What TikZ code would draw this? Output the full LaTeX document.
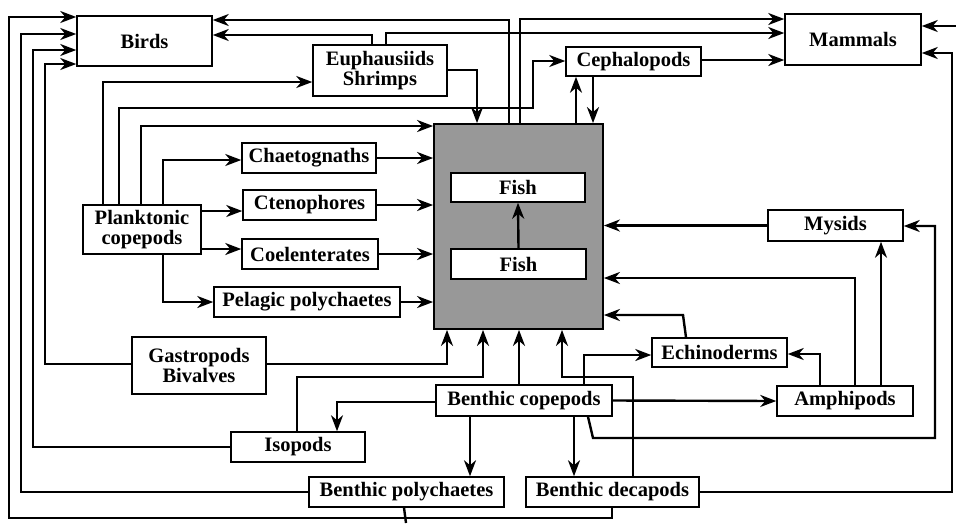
\documentclass[tikz,border=0pt]{standalone}
\usepackage{fontspec}
\setmainfont{Liberation Serif}
\usetikzlibrary{arrows.meta}
\definecolor{fishgray}{RGB}{152,152,152}
\begin{document}
\begin{tikzpicture}[x=1pt,y=-1pt,
  font=\fontsize{20.5}{19.5}\selectfont\bfseries,
  box/.style={draw, line width=1.5pt, inner sep=0pt, align=center, fill=white},
  con/.style={line width=2.4pt, line join=miter},
  arr/.style={con, -{Stealth[length=16pt,width=12pt,inset=5pt]}}]
\useasboundingbox (0,0) rectangle (956,523);
% nodes
\node[box, fill=fishgray, line width=1.8pt, minimum width=169pt, minimum height=205pt] (fishbox) at (518.5,226.5) {};
\node[box, minimum width=134pt, minimum height=29pt] (fishtop) at (518,187.5) {Fish};
\node[box, minimum width=135pt, minimum height=30pt] (fishbot) at (518.5,264) {Fish};
\node[box, minimum width=135pt, minimum height=50pt] (birds) at (144.5,41) {Birds};
\node[box, minimum width=134pt, minimum height=51pt] (euph) at (380,70.5) {Euphausiids\\Shrimps};
\node[box, minimum width=135pt, minimum height=29pt] (ceph) at (633.5,61.5) {Cephalopods};
\node[box, minimum width=136pt, minimum height=51pt] (mammals) at (853,39.5) {Mammals};
\node[box, minimum width=134pt, minimum height=30pt] (chaet) at (309,158) {Chaetognaths};
\node[box, minimum width=133pt, minimum height=30pt] (cteno) at (309.5,205) {Ctenophores};
\node[box, minimum width=136pt, minimum height=30pt] (coel) at (310,254) {Coelenterates};
\node[box, minimum width=186pt, minimum height=30pt] (pelag) at (307,302) {Pelagic polychaetes};
\node[box, minimum width=118pt, minimum height=49pt] (plank) at (142,229.5) {Planktonic\\copepods};
\node[box, minimum width=135pt, minimum height=31pt] (mysids) at (835.5,225.5) {Mysids};
\node[box, minimum width=135pt, minimum height=29pt] (echino) at (719.5,352.5) {Echinoderms};
\node[box, minimum width=136pt, minimum height=30pt] (amphi) at (845,401) {Amphipods};
\node[box, minimum width=134pt, minimum height=57pt] (gastro) at (199,365.5) {Gastropods\\Bivalves};
\node[box, minimum width=134pt, minimum height=30pt] (isopods) at (298,447) {Isopods};
\node[box, minimum width=176pt, minimum height=31pt] (bcope) at (524,400.5) {Benthic copepods};
\node[box, minimum width=195pt, minimum height=30pt] (bpoly) at (406.5,492) {Benthic polychaetes};
\node[box, minimum width=173pt, minimum height=30pt] (bdeca) at (612.5,492) {Benthic decapods};
\coordinate (cut) at (406,523);
\coordinate (rightin) at (956,26);
% connectors to Birds
\draw[arr] (612,0 |- bdeca.south) -- (612,518) -- (9,518) -- (9,17) -- (birds.west |- 0,17);
\draw[con] (404,0 |- bpoly.south) -- (cut);
\draw[arr] (bpoly.west) -- (21,492) -- (21,34) -- (birds.west |- 0,34);
\draw[arr] (isopods.west) -- (33,447) -- (33,50) -- (birds.west |- 0,50);
\draw[arr] (gastro.west |- 0,364) -- (45,364) -- (45,64) -- (birds.west |- 0,64);
\draw[arr] (509,0 |- fishbox.north) -- (509,20) -- (birds.east |- 0,20);
\draw[arr] (372,0 |- euph.north) -- (372,35) -- (birds.east |- 0,35);
% to Mammals
\draw[arr] (520,0 |- fishbox.north) -- (520,19) -- (mammals.west |- 0,19);
\draw[arr] (386,0 |- euph.north) -- (386,33) -- (mammals.west |- 0,33);
\draw[arr] (ceph.east |- 0,60) -- (mammals.west |- 0,60);
\draw[arr] (rightin) -- (mammals.east |- 0,26);
\draw[arr] (bdeca.east) -- (952,492) -- (952,53) -- (mammals.east |- 0,53);
% euph, ceph
\draw[arr] (euph.east |- 0,70) -- (477,70) -- (477,0 |- fishbox.north);
\draw[arr] (576,0 |- fishbox.north) -- (576,0 |- ceph.south);
\draw[arr] (593,0 |- ceph.south) -- (593,0 |- fishbox.north);
% planktonic copepods
\draw[arr] (103,0 |- plank.north) -- (103,82) -- (euph.west |- 0,82);
\draw[arr] (119,0 |- plank.north) -- (119,108) -- (533,108) -- (533,61) -- (ceph.west |- 0,61);
\draw[arr] (141,0 |- plank.north) -- (141,126) -- (fishbox.west |- 0,126);
\draw[arr] (163,0 |- plank.north) -- (163,160) -- (chaet.west |- 0,160);
\draw[arr] (plank.east |- 0,211) -- (cteno.west |- 0,211);
\draw[arr] (plank.east |- 0,249) -- (coel.west |- 0,249);
\draw[arr] (163,0 |- plank.south) -- (163,302) -- (pelag.west);
% into fish box, left
\draw[arr] (chaet.east) -- (fishbox.west |- chaet.east);
\draw[arr] (cteno.east) -- (fishbox.west |- cteno.east);
\draw[arr] (coel.east) -- (fishbox.west |- coel.east);
\draw[arr] (pelag.east) -- (fishbox.west |- pelag.east);
\draw[arr] (fishbot.north) -- (fishtop.south);
% right side
\draw[arr] (mysids.west) -- (fishbox.east |- mysids.west);
\draw[arr] (855,0 |- amphi.north) -- (855,278) -- (fishbox.east |- 0,278);
\draw[arr] (881,0 |- amphi.north) -- (881,0 |- mysids.south);
\draw[arr] (588,0 |- bcope.south) -- (593,438) -- (935,438) -- (935,226) -- (mysids.east |- 0,226);
\draw[arr] (686,0 |- echino.north) -- (683,315) -- (fishbox.east |- 0,315);
\draw[arr] (584,0 |- bcope.north) -- (584,355) -- (echino.west |- 0,355);
\draw[arr] (820,0 |- amphi.north) -- (820,354) -- (echino.east |- 0,354);
\draw[arr] (bcope.east) -- (amphi.west);
% benthic copepods down / left
\draw[arr] (bcope.west |- 0,402) -- (337,402) -- (337,0 |- isopods.north);
\draw[arr] (470,0 |- bcope.south) -- (470,0 |- bpoly.north);
\draw[arr] (574,0 |- bcope.south) -- (574,0 |- bdeca.north);
% into fish box, bottom
\draw[arr] (gastro.east |- 0,364) -- (447,364) -- (447,0 |- fishbox.south);
\draw[arr] (297,0 |- isopods.north) -- (297,377) -- (483,377) -- (483,0 |- fishbox.south);
\draw[arr] (519,0 |- bcope.north) -- (519,0 |- fishbox.south);
\draw[arr] (633,0 |- bdeca.north) -- (633,377) -- (562,377) -- (562,0 |- fishbox.south);
\end{tikzpicture}
\end{document}
